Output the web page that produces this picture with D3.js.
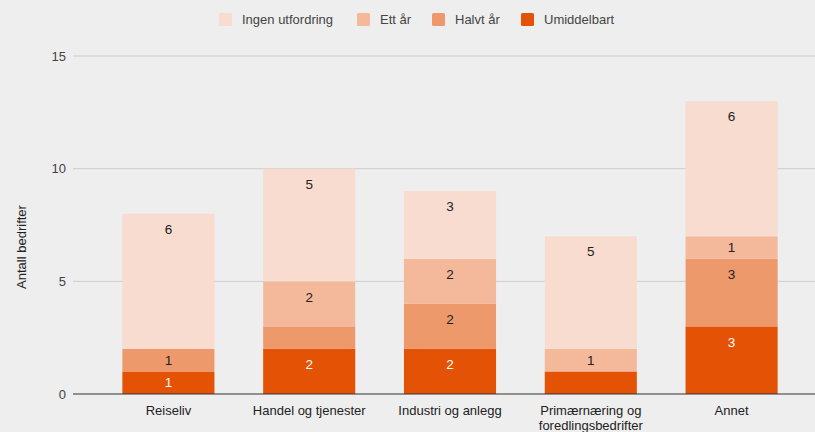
<!DOCTYPE html>
<html>
<head>
<meta charset="utf-8">
<script src="https://cdn.jsdelivr.net/npm/d3@7"></script>
<style>
  body { margin: 0; background: #eeeeee; }
  text { font-family: Arial, "Liberation Sans", sans-serif; }
</style>
</head>
<body>
<script>
// categories and series, bottom of the stack first
var categories = ["Reiseliv", "Handel og tjenester", "Industri og anlegg", "Primærnæring og foredlingsbedrifter", "Annet"];
var seriesNames = ["Umiddelbart", "Halvt år", "Ett år", "Ingen utfordring"];
var umiddelbart = [1, 2, 2, 1, 3];
var halvtAar = [1, 1, 2, 0, 3];
var ettAar = [0, 2, 2, 1, 1];
var ingen = [6, 5, 3, 5, 6];
var yTicks = [0, 5, 10, 15];
// labels the original chart leaves out
var hiddenLabels = [["Handel og tjenester", "Halvt år"], ["Primærnæring og foredlingsbedrifter", "Umiddelbart"]];

var colors = ["#e35205", "#ee996b", "#f4b89b", "#f8dccf"];
var labelColors = ["#ffffff", "#222222", "#222222", "#222222"];

var W = 815, H = 432;
var margin = {top: 56, right: 0, bottom: 38, left: 73};

var svg = d3.select("body").append("svg")
    .attr("width", W)
    .attr("height", H);

var data = categories.map(function(c, i) {
  return {cat: c, "Umiddelbart": umiddelbart[i], "Halvt år": halvtAar[i], "Ett år": ettAar[i], "Ingen utfordring": ingen[i]};
});
var stacked = d3.stack().keys(seriesNames)(data);

var x = d3.scaleBand()
    .domain(categories)
    .range([98, 802])
    .paddingInner(0.346)
    .paddingOuter(0.173);
var y = d3.scaleLinear()
    .domain([0, 15])
    .range([H - margin.bottom, margin.top]);

// gridlines
svg.append("g").selectAll("line")
    .data(yTicks.filter(function(t) { return t > 0; }))
    .enter().append("line")
    .attr("x1", margin.left).attr("x2", W)
    .attr("y1", function(d) { return y(d); })
    .attr("y2", function(d) { return y(d); })
    .attr("stroke", "#cccccc")
    .attr("stroke-width", 1);

// y axis labels
var yAxis = svg.append("g")
    .attr("transform", "translate(" + margin.left + ",0)")
    .call(d3.axisLeft(y).tickValues(yTicks).tickSize(0).tickPadding(7));
yAxis.select(".domain").remove();
yAxis.selectAll("text")
    .attr("font-size", 13)
    .attr("fill", "#444444")
    .attr("font-family", "Arial, 'Liberation Sans', sans-serif");

// bars
var layers = svg.append("g").selectAll("g")
    .data(stacked)
    .enter().append("g")
    .attr("fill", function(d, i) { return colors[i]; });

layers.selectAll("rect")
    .data(function(d) { return d; })
    .enter().append("rect")
    .attr("x", function(d) { return x(d.data.cat); })
    .attr("width", x.bandwidth())
    .attr("y", function(d) { return y(d[1]); })
    .attr("height", function(d) { return y(d[0]) - y(d[1]); });

// value labels
stacked.forEach(function(layer, si) {
  svg.append("g").selectAll("text")
    .data(layer.filter(function(d) {
      var v = d[1] - d[0];
      var hide = hiddenLabels.some(function(h) { return h[0] === d.data.cat && h[1] === layer.key; });
      return v > 0 && !hide;
    }))
    .enter().append("text")
    .attr("x", function(d) { return x(d.data.cat) + x.bandwidth() / 2; })
    .attr("y", function(d) {
      var top = y(d[1]), h = y(d[0]) - y(d[1]);
      return top + Math.min(15.5, h / 2);
    })
    .attr("dy", "0.35em")
    .attr("text-anchor", "middle")
    .attr("font-size", 13.5)
    .attr("font-family", "Roboto, Arial, sans-serif")
    .attr("fill", labelColors[si])
    .text(function(d) { return d[1] - d[0]; });
});

// baseline
svg.append("line")
    .attr("x1", margin.left).attr("x2", W)
    .attr("y1", y(0)).attr("y2", y(0))
    .attr("stroke", "#333333")
    .attr("stroke-width", 1);

// x axis labels
var xAxis = svg.append("g")
    .attr("transform", "translate(0," + y(0) + ")")
    .call(d3.axisBottom(x).tickSize(0).tickPadding(0));
xAxis.select(".domain").remove();
xAxis.selectAll("text").remove();
xAxis.selectAll(".tick").append("text")
    .attr("text-anchor", "middle")
    .attr("font-size", 13)
    .attr("fill", "#222222")
    .each(function(d) {
      var lines = d === "Primærnæring og foredlingsbedrifter" ? ["Primærnæring og", "foredlingsbedrifter"] : [d];
      var t = d3.select(this);
      lines.forEach(function(l, i) {
        t.append("tspan").attr("x", 0).attr("y", 20.5 + i * 15.5).text(l);
      });
    });

// y axis title
svg.append("text")
    .attr("transform", "translate(26,247) rotate(-90)")
    .attr("text-anchor", "middle")
    .attr("font-size", 13)
    .attr("fill", "#222222")
    .text("Antall bedrifter");

// legend
var legendOrder = ["Ingen utfordring", "Ett år", "Halvt år", "Umiddelbart"];
var legendX = [219, 357, 432, 521];
var legend = svg.append("g").selectAll("g")
    .data(legendOrder)
    .enter().append("g")
    .attr("transform", function(d, i) { return "translate(" + legendX[i] + ",13)"; });
legend.append("rect")
    .attr("width", 13).attr("height", 13)
    .attr("rx", 1.5)
    .attr("fill", function(d) { return colors[seriesNames.indexOf(d)]; });
legend.append("text")
    .attr("x", 23).attr("y", 6.5).attr("dy", "0.35em")
    .attr("font-size", 13)
    .attr("fill", "#444444")
    .text(function(d) { return d; });
</script>
</body>
</html>
